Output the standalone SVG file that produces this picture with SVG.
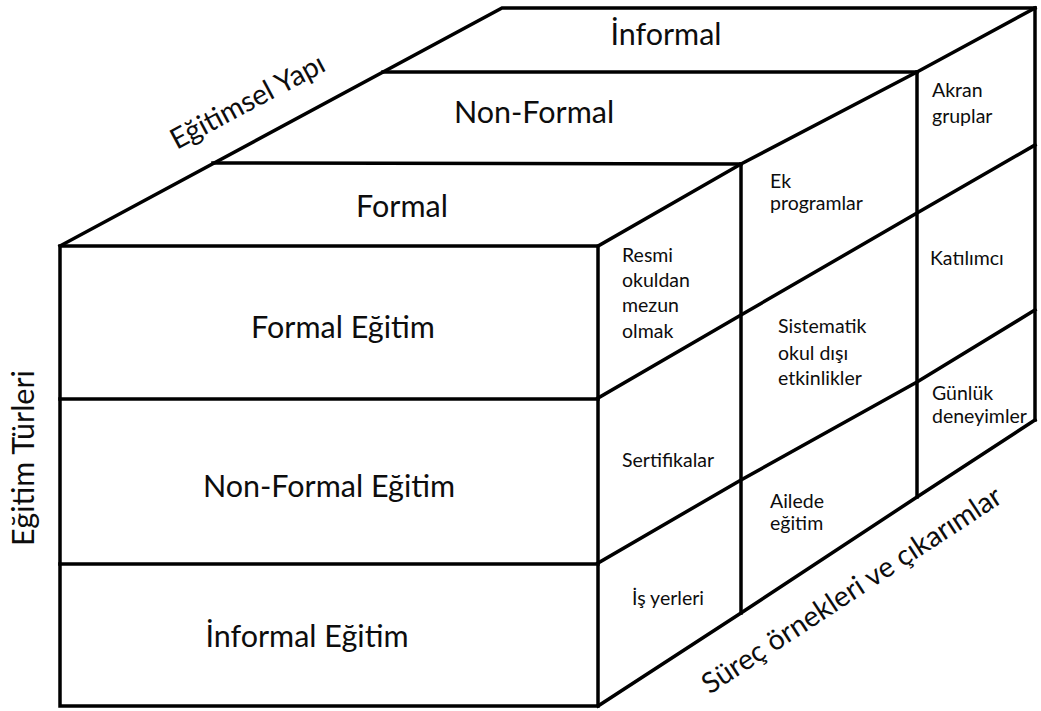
<svg xmlns="http://www.w3.org/2000/svg" width="1041" height="711" viewBox="0 0 1041 711">
<style>
.ln{fill:none;stroke:#000;stroke-width:3.5;stroke-linejoin:miter;stroke-linecap:square}
.big{font-family:Lato,"Open Sans","DejaVu Sans",sans-serif;font-size:30.5px;fill:#0d0d0d;text-anchor:middle}
.axis{font-size:28.5px}
.sm{font-family:Lato,"Open Sans","DejaVu Sans",sans-serif;font-size:19.5px;fill:#0d0d0d}
</style>
<rect width="1041" height="711" fill="#fff"/>
<g id="connectors">
  <!-- top face -->
  <path class="ln" d="M60,246 L502,8 L1035,8"/>
  <path class="ln" d="M383,72 L917,72"/>
  <path class="ln" d="M213,163 L741,164"/>
  <path class="ln" d="M598,246 L741,164 L917,72 L1035,8"/>
  <!-- front face -->
  <rect class="ln" x="60" y="246" width="538" height="460"/>
  <path class="ln" d="M60,399 L598,399"/>
  <path class="ln" d="M60,564 L598,564"/>
  <!-- right face -->
  <path class="ln" d="M741,164 L741,613"/>
  <path class="ln" d="M917,72 L917,497"/>
  <path class="ln" d="M1035,8 L1035,420"/>
  <path class="ln" d="M598,398 L741,315 L917,213 L1035,145"/>
  <path class="ln" d="M598,563 L741,480 L917,382 L1035,310"/>
  <path class="ln" d="M598,706 L741,613 L917,497 L1035,420"/>
</g>
<g id="axis-egitimsel-yapi"><text class="big axis" transform="translate(252,110) rotate(-28)" x="0" y="0">Eğitimsel Yapı</text></g>
<g id="axis-egitim-turleri"><text class="big" transform="translate(34,458) rotate(-90)" x="0" y="0">Eğitim Türleri</text></g>
<g id="axis-surec"><text class="big axis" transform="translate(857,598) rotate(-33.3)" x="0" y="0">Süreç örnekleri ve çıkarımlar</text></g>
<g id="top-informal"><text class="big" x="666" y="45">İnformal</text></g>
<g id="top-nonformal"><text class="big" x="534" y="123">Non-Formal</text></g>
<g id="top-formal"><text class="big" x="402" y="217">Formal</text></g>
<g id="front-formal"><text class="big" x="343" y="338">Formal Eğitim</text></g>
<g id="front-nonformal"><text class="big" x="329" y="497">Non-Formal Eğitim</text></g>
<g id="front-informal"><text class="big" x="307" y="647">İnformal Eğitim</text></g>
<g id="cell-resmi"><text class="sm" x="622" y="262">Resmi</text><text class="sm" x="622" y="287">okuldan</text><text class="sm" x="622" y="312">mezun</text><text class="sm" x="622" y="338">olmak</text></g>
<g id="cell-sertifikalar"><text class="sm" x="622" y="467">Sertifikalar</text></g>
<g id="cell-is-yerleri"><text class="sm" x="632" y="605">İş yerleri</text></g>
<g id="cell-ek-programlar"><text class="sm" x="770" y="188">Ek</text><text class="sm" x="770" y="210">programlar</text></g>
<g id="cell-sistematik"><text class="sm" x="778" y="333">Sistematik</text><text class="sm" x="778" y="360">okul dışı</text><text class="sm" x="778" y="385">etkinlikler</text></g>
<g id="cell-ailede"><text class="sm" x="770" y="508">Ailede</text><text class="sm" x="770" y="530">eğitim</text></g>
<g id="cell-akran"><text class="sm" x="932" y="97">Akran</text><text class="sm" x="932" y="123">gruplar</text></g>
<g id="cell-katilimci"><text class="sm" x="930" y="265">Katılımcı</text></g>
<g id="cell-gunluk"><text class="sm" x="932" y="400">Günlük</text><text class="sm" x="932" y="423">deneyimler</text></g>
</svg>
